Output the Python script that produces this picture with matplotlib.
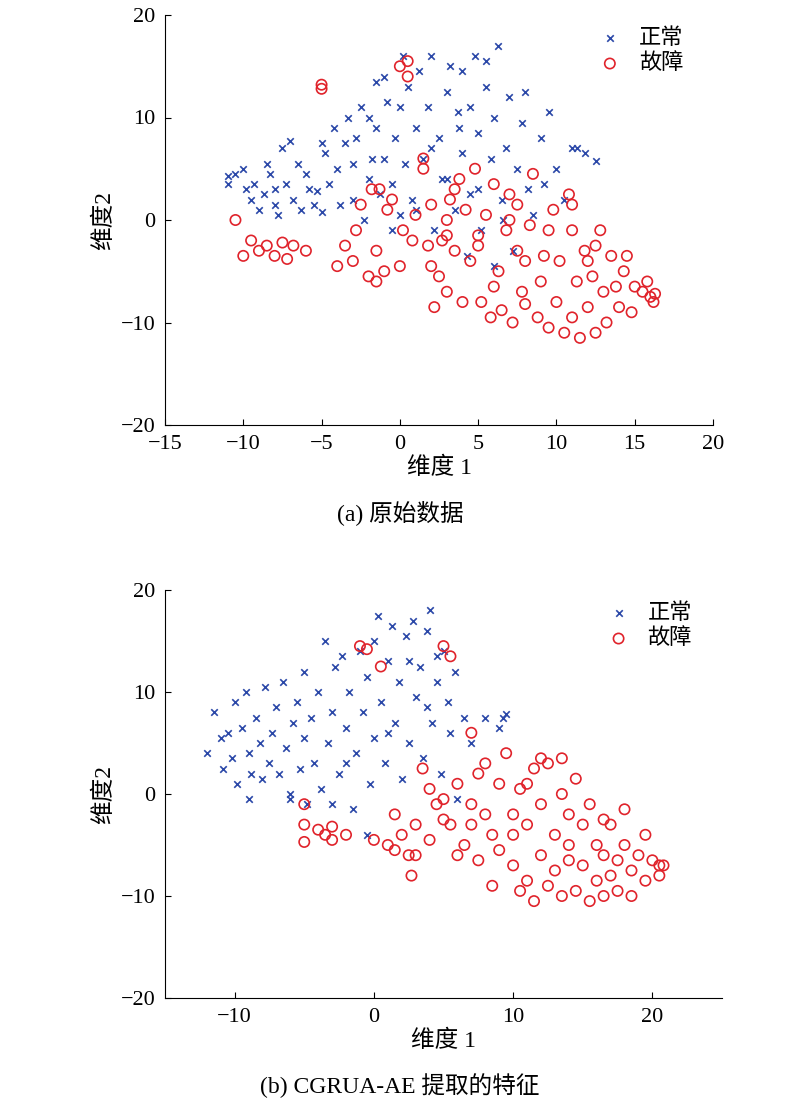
import numpy as np
import matplotlib.pyplot as plt

plt.rcParams['font.family'] = ['Liberation Serif', 'Noto Sans CJK SC']
plt.rcParams['font.size'] = 15

# (a) 原始数据
a_normal = [(-11,4.3),(-11,3.5),(-10.5,4.5),(-10,5),(-9.8,3),(-9.5,2),(-9.3,3.5),(-9,1),(-8.7,2.5),(-8.5,5.5),
    (-8.3,4.5),(-8,1.5),(-8,3),(-7.8,0.5),(-7.5,7),(-7.3,3.5),(-7,7.7),(-6.8,2),(-6.5,5.5),(-6.3,1),(-6,4.5),
    (-5.8,3),(-5.5,1.5),(-5.3,2.8),(-5,7.5),(-5,0.8),(-4.8,6.5),(-4.5,3.5),(-4.2,9),(-4,5),(-3.8,1.5),(-3.5,7.5),
    (-3.3,10),(-3,2),(-3,5.5),(-2.8,8),(-2.5,11),(-2.3,0),(-2,4),(-1.8,6),(-1.5,13.5),(-1.5,9),(-1.3,2.5),(-1,6),
    (-1,14),(-0.8,11.5),(-0.5,3.5),(-0.3,8),(0,0.5),(0,11),(0.3,5.5),(0.5,13),(0.8,2),(1,9),(1.2,14.5),(1.5,6),
    (1.8,11),(2,16),(2.2,-1),(2.5,8),(2.7,4),(3,12.5),(3.2,15),(3.5,1),(3.8,9),(4,6.5),(4,14.5),(4.3,-3.5),
    (4.5,11),(4.8,16),(5,3),(5,8.5),(5.2,-1),(5.5,13),(5.8,6),(6,-4.5),(6,10),(6.3,17),(6.5,2),(6.8,7),(7,12),
    (7.2,-3),(7.5,5),(7.8,9.5),(8,12.5),(8.2,3),(8.5,0.5),(9,8),(9.5,10.5),(10,5),(10.5,2),(11,7),(11.3,7),
    (11.8,6.5),(12.5,5.8),(9.2,3.5),(6.6,0),(3,4),(1,1),(-0.5,-1),(2,7),(4.5,2.5),(0.2,16),(-2,10),(3.7,10.5),(5.5,15.5)]
a_fault = [(-10.5,0),(-10,-3.5),(-9.5,-2),(-9,-3),(-8.5,-2.5),(-8,-3.5),(-7.5,-2.2),(-7.2,-3.8),(-6.8,-2.5),(-6,-3),
    (-5,13.2),(-5,12.8),(-4,-4.5),(-3.5,-2.5),(-3,-4),(-2.8,-1),(-2.5,1.5),(-2,-5.5),(-1.8,3),(-1.5,-3),(-1.3,3),
    (-1,-5),(-0.8,1),(-0.5,2),(0,-4.5),(0.2,-1),(0,15),(0.5,15.5),(0.5,14),(0.8,-2),(1,0.5),(1.5,6),(1.5,5),
    (1.8,-2.5),(2,-4.5),(2.2,-8.5),(2.5,-5.5),(2.7,-2),(3,0),(3,-1.5),(3.2,2),(3.5,-3),(3.8,4),(4,-8),(4.2,1),
    (4.5,-4),(4.8,5),(5,-2.5),(5.2,-8),(5.5,0.5),(5.8,-9.5),(6,3.5),(6.3,-5),(6.5,-8.8),(6.8,-1),(7,2.5),(7.2,-10),
    (7.5,-3),(7.5,1.5),(7.8,-7),(8,-8.2),(8.3,-0.5),(8.5,4.5),(8.8,-9.5),(9,-6),(9.2,-3.5),(9.5,-10.5),(9.8,1),
    (10,-8),(10.2,-4),(10.5,-11),(10.8,2.5),(11,-9.5),(11,1.5),(11.3,-6),(11.5,-11.5),(11.8,-3),(12,-8.5),
    (12.3,-5.5),(12.5,-11),(12.5,-2.5),(12.8,-1),(13,-7),(13.2,-10),(13.5,-3.5),(13.8,-6.5),(14,-8.5),(14.3,-5),
    (14.5,-3.5),(14.8,-9),(15,-6.5),(15.5,-7),(16,-7.5),(16.2,-8),(15.8,-6),(16.3,-7.2),(2,1.5),(3.5,3),(5,-1.5),
    (7,0),(8,-4),(9.5,-1),(11,-1),(6,-6.5),(3,-7),(-1.5,-6),(12,-4)]

# (b) CGRUA-AE 提取的特征
b_normal = [(-12,4),(-11.5,8),(-11,5.5),(-10.8,2.5),(-10.5,6),(-10.2,3.5),(-10,9),(-9.8,1),(-9.5,6.5),(-9.2,10),
    (-9,4),(-8.8,2),(-8.5,7.5),(-8.2,5),(-8,1.5),(-7.8,10.5),(-7.5,3),(-7.3,6),(-7,8.5),(-6.8,2),(-6.5,11),
    (-6.3,4.5),(-6,0),(-5.8,7),(-5.5,9),(-5.3,2.5),(-5,12),(-5,5.5),(-4.8,-1),(-4.5,7.5),(-4.3,3),(-4,10),
    (-3.8,0.5),(-3.5,15),(-3.3,5),(-3,8),(-2.8,12.5),(-2.5,2),(-2.3,13.5),(-2,6.5),(-1.8,10),(-1.5,-1.5),(-1.3,4),
    (-1,14),(-0.8,8),(-0.5,11.5),(-0.3,1),(0,15),(0,5.5),(0.3,17.5),(0.5,9),(0.8,3),(1,13),(1.3,16.5),(1.5,7),
    (1.8,11),(2,1.5),(2.3,15.5),(2.5,5),(2.8,17),(3,9.5),(3.3,12.5),(3.5,3.5),(3.8,16),(4,18),(4.2,7),(4.5,11),
    (4.8,2),(5,14),(5.3,9),(5.5,6),(5.8,12),(6,-0.5),(6.5,7.5),(7,5),(8,7.5),(9,6.5),(9.3,7.5),(9.5,7.8),
    (-9,-0.5),(-6,-0.5),(-2,3),(1,6),(3.8,8.5),(-3,-1),(-0.5,-4),(2.5,13),(4.5,13.5)]
b_fault = [(-5,-1),(-5,-3),(-5,-4.7),(-4,-3.5),(-3.5,-4),(-3,-3.2),(-3,-4.5),(-2,-4),(-1,14.5),(-0.5,14.2),(0,-4.5),
    (0.5,12.5),(1,-5),(1.5,-2),(1.5,-5.5),(2,-4),(2.5,-6),(2.7,-8),(3,-3),(3.5,2.5),(4,-4.5),(4,0.5),(4.5,-1),
    (5,14.5),(5,-2.5),(5.5,-3),(5.5,13.5),(6,-6),(6,1),(6.5,-5),(7,6),(7,-1),(7.5,-6.5),(7.5,2),(8,-2),(8.5,-4),
    (8.5,-9),(9,-5.5),(9,1),(9.5,4),(10,-2),(10,-7),(10.5,-9.5),(10.5,0.5),(11,-3),(11,-8.5),(11.5,-10.5),
    (11.5,2.5),(12,-1),(12,-6),(12.5,-9),(12.5,3),(13,-4),(13,-7.5),(13.5,-10),(13.5,0),(14,-2),(14,-5),
    (14.5,-9.5),(14.5,1.5),(15,-7),(15,-3),(15.5,-10.5),(15.5,-1),(16,-5),(16,-8.5),(16.5,-6),(16.5,-10),
    (17,-3),(17,-8),(17.5,-6.5),(17.5,-9.5),(18,-1.5),(18,-5),(18.5,-7.5),(18.5,-10),(19,-6),(19.5,-4),
    (19.5,-8.5),(20,-6.5),(20.5,-7),(20.8,-7),(20.5,-8),(12,3.5),(13.5,3.5),(8,3),(5,-0.5),(11,1),(14,-6.5),
    (16.5,-2.5),(10,-4),(7,-3),(3,-6)]

blue = '#2b48a8'
red = '#e0232b'

fig = plt.figure(figsize=(8, 11.09), dpi=100)
W, H = 800, 1109
ax_a = fig.add_axes([165/W, 1-425/H, (713-165)/W, (425-15)/H])
ax_b = fig.add_axes([165/W, 1-998/H, (722-165)/W, (998-590)/H])


def dibujar(ax, normal, fault, xlim, xticks):
    n = np.array(normal)
    f = np.array(fault)
    ax.scatter(n[:, 0], n[:, 1], marker='x', s=22, color=blue, linewidths=1.2, label='正常')
    ax.scatter(f[:, 0], f[:, 1], marker='o', s=55, facecolors='none', edgecolors=red,
               linewidths=1.2, label='故障')
    ax.set_xlim(*xlim)
    ax.set_ylim(-20, 20)
    ax.set_xticks(xticks)
    ax.set_yticks([-20, -10, 0, 10, 20])
    ax.set_xticklabels([f'{t}'.replace('-', '\u2212') for t in xticks])
    ax.set_yticklabels(['\u221220', '\u221210', '0', '10', '20'])
    ax.spines['top'].set_visible(False)
    ax.spines['right'].set_visible(False)
    ax.tick_params(direction='in', length=4, labelsize=16, pad=7)
    ax.set_xlabel('维度 1', fontsize=17, labelpad=2)
    ax.set_ylabel('维度2', fontsize=17)
    ax.legend(loc='upper right', bbox_to_anchor=(0.97, 1.0), frameon=False, fontsize=16,
              handletextpad=0.3, borderaxespad=0.2, labelspacing=0.2)


dibujar(ax_a, a_normal, a_fault, (-15, 20), [-15, -10, -5, 0, 5, 10, 15, 20])
dibujar(ax_b, b_normal, b_fault, (-15, 25), [-10, 0, 10, 20])

fig.text(0.5, 1-520/H, '(a) 原始数据', ha='center', fontsize=17)
fig.text(0.5, 1-1093/H, '(b) CGRUA-AE 提取的特征', ha='center', fontsize=17)

fig.savefig('out.png', dpi=100)
